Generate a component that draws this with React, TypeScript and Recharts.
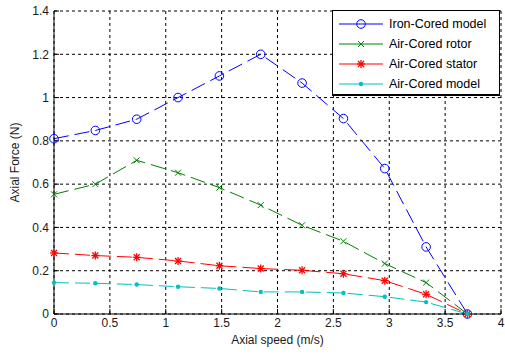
import React from 'react';
import { LineChart, Line, XAxis, YAxis, CartesianGrid, Legend, Label } from 'recharts';

const speeds = [0, 0.37, 0.74, 1.11, 1.48, 1.85, 2.22, 2.59, 2.96, 3.33, 3.7];
const ironCoredModel = [0.81, 0.848, 0.9, 1.0, 1.1, 1.2, 1.067, 0.903, 0.672, 0.31, 0];
const airCoredRotor = [0.553, 0.6, 0.71, 0.653, 0.584, 0.503, 0.41, 0.336, 0.233, 0.145, 0];
const airCoredStator = [0.282, 0.27, 0.262, 0.245, 0.223, 0.21, 0.202, 0.186, 0.154, 0.091, 0];
const airCoredModel = [0.145, 0.142, 0.136, 0.126, 0.118, 0.102, 0.102, 0.097, 0.08, 0.055, 0];

const xTicks = [0, 0.5, 1, 1.5, 2, 2.5, 3, 3.5, 4];
const yTicks = [0, 0.2, 0.4, 0.6, 0.8, 1, 1.2, 1.4];

const seriesNames = ['Iron-Cored model', 'Air-Cored rotor', 'Air-Cored stator', 'Air-Cored model'];
const seriesKeys = ['iron', 'rotor', 'stator', 'model'];
const seriesColors = ['#0000ff', '#008000', '#ff0000', '#00c0c0'];

const data = speeds.map((s, i) => ({
  speed: s,
  iron: ironCoredModel[i],
  rotor: airCoredRotor[i],
  stator: airCoredStator[i],
  model: airCoredModel[i],
}));

const FONT = '"Liberation Sans", Arial, Helvetica, sans-serif';

function Marker({ kind, cx, cy, color }: { kind: number; cx: number; cy: number; color: string }) {
  if (cx == null || cy == null || isNaN(cx) || isNaN(cy)) return null;
  if (kind === 0) {
    return <circle cx={cx} cy={cy} r={4.3} fill="none" stroke={color} strokeWidth={1} />;
  }
  if (kind === 1) {
    const s = 3;
    return (
      <g stroke={color} strokeWidth={1}>
        <line x1={cx - s} y1={cy - s} x2={cx + s} y2={cy + s} />
        <line x1={cx - s} y1={cy + s} x2={cx + s} y2={cy - s} />
      </g>
    );
  }
  if (kind === 2) {
    const s = 4;
    const d = 3;
    return (
      <g stroke={color} strokeWidth={1.3}>
        <line x1={cx} y1={cy - s} x2={cx} y2={cy + s} />
        <line x1={cx - s} y1={cy} x2={cx + s} y2={cy} />
        <line x1={cx - d} y1={cy - d} x2={cx + d} y2={cy + d} />
        <line x1={cx - d} y1={cy + d} x2={cx + d} y2={cy - d} />
      </g>
    );
  }
  return <circle cx={cx} cy={cy} r={2.2} fill={color} stroke="none" />;
}

const makeDot = (kind: number, color: string) => (props: any) => (
  <Marker key={`${kind}-${props.index}`} kind={kind} cx={props.cx} cy={props.cy} color={color} />
);

const LegendBox = () => (
  <div
    style={{
      width: 168,
      height: 86,
      boxSizing: 'border-box',
      border: '1px solid #000',
      borderBottom: '2px solid #000',
      background: '#fff',
      paddingTop: 3,
      fontFamily: FONT,
      fontSize: 12.5,
      color: '#000',
    }}
  >
    {seriesNames.map((name, i) => (
      <div key={name} style={{ height: 20, display: 'flex', alignItems: 'center' }}>
        <svg width={56} height={20} style={{ display: 'block' }}>
          <line x1={6} y1={10} x2={50} y2={10} stroke={seriesColors[i]} strokeWidth={1} />
          <Marker kind={i} cx={28} cy={10} color={seriesColors[i]} />
        </svg>
        <span style={{ whiteSpace: 'nowrap' }}>{name}</span>
      </div>
    ))}
  </div>
);

export default function App() {
  const tickStyle = { fill: '#1a1a1a', fontSize: 12, fontFamily: FONT };
  return (
    <div style={{ position: 'absolute', left: 0, top: 0, background: '#fff' }}>
      <LineChart width={505} height={356} data={data} margin={{ top: 11, right: 4, bottom: 0, left: 0 }}>
        <CartesianGrid stroke="#000" strokeDasharray="3 3" strokeWidth={1} horizontal vertical />
        <XAxis
          dataKey="speed"
          type="number"
          domain={[0, 4]}
          ticks={xTicks}
          height={42}
          tickSize={-5}
          tickMargin={9}
          tick={tickStyle}
          axisLine={{ stroke: '#000' }}
          tickLine={{ stroke: '#000' }}
          interval={0}
        >
          <Label value="Axial speed (m/s)" position="insideBottom" offset={12} style={{ fill: '#1a1a1a', fontSize: 12, fontFamily: FONT }} />
        </XAxis>
        <XAxis
          xAxisId="top"
          orientation="top"
          type="number"
          domain={[0, 4]}
          ticks={xTicks}
          height={0}
          tickSize={-5}
          tick={false}
          axisLine={{ stroke: '#000' }}
          tickLine={{ stroke: '#000' }}
          interval={0}
        />
        <YAxis
          type="number"
          domain={[0, 1.4]}
          ticks={yTicks}
          width={54}
          tickSize={-5}
          tickMargin={10}
          tick={tickStyle}
          axisLine={{ stroke: '#000' }}
          tickLine={{ stroke: '#000' }}
          interval={0}
        >
          <Label
            value="Axial Force (N)"
            angle={-90}
            position="insideLeft"
            offset={15}
            style={{ textAnchor: 'middle', fill: '#1a1a1a', fontSize: 12, fontFamily: FONT }}
          />
        </YAxis>
        <YAxis
          yAxisId="right"
          orientation="right"
          type="number"
          domain={[0, 1.4]}
          ticks={yTicks}
          width={0}
          tickSize={-5}
          tick={false}
          axisLine={{ stroke: '#000' }}
          tickLine={{ stroke: '#000' }}
          interval={0}
        />
        {seriesKeys.map((k, i) => (
          <Line
            key={k}
            dataKey={k}
            name={seriesNames[i]}
            type="linear"
            stroke={seriesColors[i]}
            strokeWidth={1}
            strokeDasharray="15 6"
            dot={makeDot(i, seriesColors[i])}
            activeDot={false}
            isAnimationActive={false}
          />
        ))}
        <Legend
          layout="vertical"
          align="center"
          verticalAlign="middle"
          content={<LegendBox />}
          wrapperStyle={{ position: 'absolute', left: 332, top: 10, width: 168, height: 86 }}
        />
      </LineChart>
    </div>
  );
}
